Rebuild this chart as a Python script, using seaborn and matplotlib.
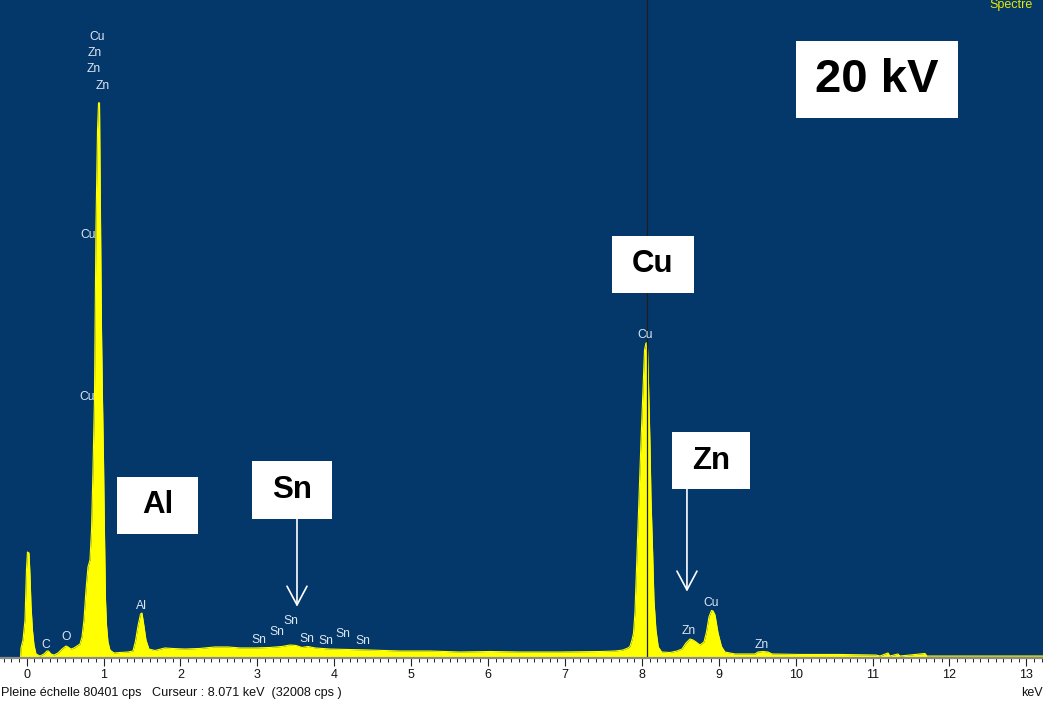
import matplotlib
matplotlib.use("Agg")
import matplotlib.pyplot as plt
from matplotlib.patches import Rectangle
from matplotlib.ticker import MultipleLocator
import pandas as pd
import seaborn as sns

# EDS spectrum (energy in keV, intensity in counts per second)
energy_kev = [
    -0.080, -0.074, -0.048, -0.022, -0.003, 0.010, 0.030, 0.043, 0.056, 0.075,
    0.095, 0.121, 0.173, 0.225, 0.264, 0.283, 0.316, 0.355, 0.407, 0.459,
    0.511, 0.537, 0.576, 0.615, 0.654, 0.693, 0.719, 0.745, 0.771, 0.797,
    0.823, 0.843, 0.862, 0.881, 0.901, 0.921, 0.934, 0.947, 0.960, 0.973,
    0.986, 0.999, 1.012, 1.025, 1.038, 1.057, 1.083, 1.135, 1.213, 1.317,
    1.382, 1.415, 1.447, 1.480, 1.499, 1.525, 1.551, 1.590, 1.668, 1.798,
    1.889, 2.058, 2.253, 2.448, 2.617, 2.774, 2.969, 3.164, 3.320, 3.424,
    3.502, 3.580, 3.658, 3.749, 3.944, 4.204, 4.464, 4.854, 5.244, 5.634,
    6.024, 6.414, 6.935, 7.455, 7.650, 7.754, 7.819, 7.845, 7.871, 7.891,
    7.910, 7.936, 7.962, 7.988, 8.014, 8.034, 8.053, 8.071, 8.085, 8.105,
    8.118, 8.140, 8.157, 8.183, 8.213, 8.257, 8.365, 8.456, 8.521, 8.573,
    8.625, 8.664, 8.703, 8.755, 8.807, 8.840, 8.872, 8.905, 8.925, 8.951,
    8.990, 9.035, 9.080, 9.210, 9.470, 9.509, 9.574, 9.639, 9.691, 10.055,
    10.576, 11.044, 11.096, 11.200, 11.226, 11.330, 11.356, 11.681, 11.707, 12.657,
    13.216,
]
counts_cps = [
    0, 1000, 1830, 3860, 8940, 10770, 10670, 8430, 5380, 2840,
    1320, 410, 200, 410, 710, 710, 410, 300, 510, 910,
    1220, 1120, 910, 1020, 1220, 1420, 2130, 3860, 6910, 9250,
    9960, 13000, 19100, 26200, 44000, 53640, 56400, 56400, 44500, 33300,
    26200, 20100, 12500, 5890, 3350, 1630, 810, 510, 560, 610,
    710, 1730, 3250, 4470, 4570, 3250, 1830, 910, 760, 1020,
    970, 910, 970, 1120, 1120, 1020, 1020, 1070, 1170, 1320,
    1270, 1070, 1170, 1020, 910, 860, 810, 710, 710, 610,
    660, 610, 610, 660, 710, 810, 1020, 1170, 1830, 2540,
    4670, 10460, 16360, 21950, 27230, 31290, 32000, 32008, 28240, 21840,
    16360, 10670, 5890, 2840, 1120, 610, 560, 710, 910, 1520,
    1930, 1830, 1630, 1320, 1630, 2640, 4170, 4830, 4780, 4370,
    2540, 1170, 610, 410, 410, 610, 660, 610, 410, 360,
    360, 300, 200, 510, 200, 410, 200, 460, 200, 200,
    200,
]

# Line identification markers
line_names = ["Cu", "Zn", "Zn", "Zn", "Cu", "Cu", "C", "O", "Al",
              "Sn", "Sn", "Sn", "Sn", "Sn", "Sn", "Sn",
              "Cu", "Zn", "Cu", "Zn"]
line_kev = [0.914, 0.888, 0.875, 0.992, 0.797, 0.784, 0.251, 0.511, 1.487,
            3.021, 3.255, 3.437, 3.645, 3.892, 4.113, 4.373,
            8.040, 8.612, 8.898, 9.562]
line_cps = [63090, 61470, 59840, 58120, 42980, 26520, 1320, 2130, 5280,
            1830, 2640, 3760, 1930, 1730, 2440, 1730,
            32820, 2740, 5590, 1320]

# Highlighted elements (boxed captions)
callout_names = ["Al", "Sn", "Cu", "Zn"]
callout_kev = [(1.174, 2.227), (2.930, 3.970), (7.611, 8.677), (8.391, 9.405)]
callout_cps = [(12600, 18390), (14120, 20020), (37080, 42880), (17170, 22960)]

# Arrows pointing at weak peaks
arrow_kev = [3.515, 8.586]
arrow_from_cps = [14120, 17170]
arrow_to_cps = [5210, 6740]

cursor_kev = 8.071
cursor_cps = 32008
full_scale_cps = 80401
voltage_label = "20 kV"

spectrum = pd.DataFrame({"energy": energy_kev, "counts": counts_cps})

sns.set_style("white")
plt.rcParams["font.family"] = ["Liberation Sans", "DejaVu Sans"]

bg = "#05386a"
yellow = "#ffff00"

fig = plt.figure(figsize=(10.43, 7.01), dpi=100)
fig.patch.set_facecolor("white")
ax = fig.add_axes([0, 43 / 701, 1, 658 / 701])
ax.set_facecolor(bg)

sns.lineplot(data=spectrum, x="energy", y="counts", ax=ax, color=yellow,
             linewidth=0.8, zorder=3)
ax.fill_between(spectrum["energy"], 0, spectrum["counts"], color=yellow,
                linewidth=0, zorder=3)

ax.set_xlim(-0.347, 13.216)
ax.set_ylim(0, 66850)
ax.set_xlabel("")
ax.set_ylabel("")

# Cursor
ax.axvline(cursor_kev, color="#1e1e1e", linewidth=0.9, zorder=4)

# Axis styling
for side in ("top", "left", "right"):
    ax.spines[side].set_visible(False)
ax.spines["bottom"].set_color("#8a8a8a")
ax.spines["bottom"].set_linewidth(1.6)
ax.spines["bottom"].set_zorder(5)
ax.xaxis.set_major_locator(MultipleLocator(1))
ax.xaxis.set_minor_locator(MultipleLocator(0.1))
ax.tick_params(axis="x", which="major", direction="out", length=6, width=0.8,
               color="#222222", labelsize=9, pad=2, labelcolor="#111111",
               bottom=True)
ax.tick_params(axis="x", which="minor", direction="out", length=3, width=0.7,
               color="#222222", bottom=True)
ax.set_yticks([])

# Line identification labels
for name, e, c in zip(line_names, line_kev, line_cps):
    ax.text(e, c, name, color="#dce6f0", fontsize=8.7, ha="center",
            va="center", zorder=6)

# Boxed captions
for name, (x0, x1), (y0, y1) in zip(callout_names, callout_kev, callout_cps):
    ax.add_patch(Rectangle((x0, y0), x1 - x0, y1 - y0, facecolor="white",
                           edgecolor="none", zorder=7))
    ax.text((x0 + x1) / 2, (y0 + y1) / 2, name, color="black", fontsize=22.5,
            fontweight="bold", ha="center", va="center", zorder=8)

ax.add_patch(Rectangle((10.000, 54860), 2.111, 7830, facecolor="white",
                       edgecolor="none", zorder=7))
ax.text(11.055, 58700, voltage_label, color="black", fontsize=34,
        fontweight="bold", ha="center", va="center", zorder=8)

# Arrows
for e, y0, y1 in zip(arrow_kev, arrow_from_cps, arrow_to_cps):
    ax.annotate("", xy=(e, y1), xytext=(e, y0),
                arrowprops=dict(arrowstyle="->,head_length=1.35,head_width=0.72",
                                color="white", linewidth=1.2,
                                shrinkA=0, shrinkB=0),
                zorder=8)

# Header and status line
ax.text(0.949, 0.9925, "Spectre", transform=ax.transAxes, color="#e8e800",
        fontsize=9, ha="left", va="center", zorder=9)
fig.text(1 / 1043, 1 - 693 / 701,
         f"Pleine échelle {full_scale_cps} cps   Curseur : {cursor_kev:.3f} keV  ({cursor_cps} cps )",
         fontsize=9.1, color="#111111", ha="left", va="center")
fig.text(1021 / 1043, 1 - 693 / 701, "keV", fontsize=9, color="#111111",
         ha="left", va="center")

fig.savefig("out.png", dpi=100, facecolor="white")
